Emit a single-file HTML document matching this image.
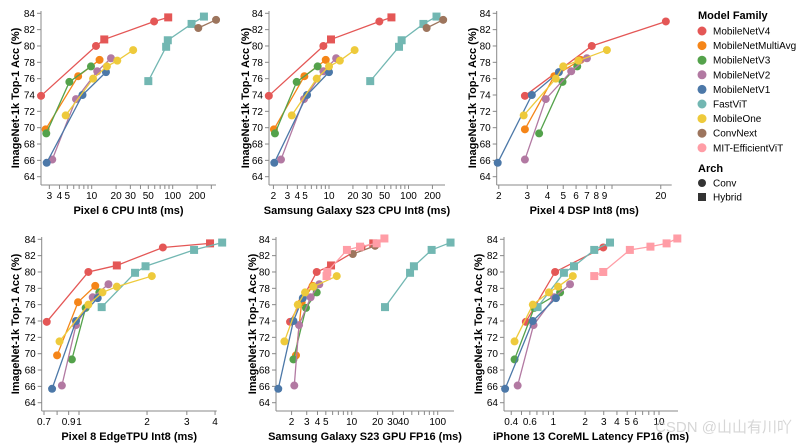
<!DOCTYPE html>
<html><head><meta charset="utf-8"><style>
body{margin:0;background:#fff;}
svg{display:block;font-family:"Liberation Sans","Noto Sans CJK SC",sans-serif;}
</style></head><body>
<svg id="c" width="801" height="447"></svg>
<script>
const families = ["MobileNetV4","MobileNetMultiAvg","MobileNetV3","MobileNetV2","MobileNetV1","FastViT","MobileOne","ConvNext","MIT-EfficientViT"];
const colors = ["#e45756","#f58518","#54a24b","#b279a2","#4c78a8","#72b7b2","#eeca3b","#9d755d","#ff9da6"];
const accV4 = [73.9,80.0,80.8,83.0,83.5];
const accMA = [69.8,76.3,78.3];
const accV3 = [69.3,75.6,77.5];
const accV2 = [66.1,73.5,76.9,78.5];
const accV1 = [65.7,74.0,76.8];
const accFV = [75.7,79.9,80.7,82.7,83.6];
const accMO = [71.5,76.0,77.5,78.2,79.5];
const accCN = [82.2,83.2];
const accEV = [79.5,80.0,82.7,83.1,83.5,84.1];
const hybV4 = [0,0,1,0,1];
const hybFV = [1,1,1,1,1];
const hybEV = [1,1,1,1,1,1];
// latencies per panel (null = not measured)
const latP1 = [[2.37,11.3,14.3,59,88],[2.7,6.8,12.5],[2.75,5.3,9.8],[3.26,6.4,11.7,17.3],[2.78,7.7,15],[50,83,87,171,243],[4.77,10.4,15.4,20.7,32.5],[207,343],null];
const latP2 = [[1.75,8.5,10.6,43,61],[2.03,4.9,9.1],[2.09,3.92,7.2],[2.49,4.85,8.5,12.3],[2.05,5.3,10],[33,76,82,154,225],[3.4,7,10,13.7,21],[169,273],null];
const latP3 = [[2.9,7.5,null,21.5,null],[2.9,4.4,6.4],[3.55,4.95,6.1],[2.9,3.9,5.6,7.0],[1.97,3.2,4.7],null,[2.85,4.5,5.0,6.2,9.3],null,null];
const latP4 = [[0.72,1.1,1.47,2.35,3.8],[0.80,0.99,1.18],[0.93,1.07,1.23],[0.84,0.97,1.15,1.35],[0.76,0.97,1.21],[1.26,1.77,1.97,3.23,4.3],[0.82,1.1,1.27,1.47,2.1],null,null];
const latP5 = [[1.92,3.92,5.75,13,17.8],[2.25,2.62,3.52],[2.1,2.94,3.92],[2.15,2.44,3.33,4.2],[1.4,2.1,2.7],[24.4,47.7,52.9,85,141],[1.65,2.36,2.87,3.58,6.7],[10.3,18.7],[5.1,5.2,8.8,12.5,19.5,24]];
const latP6 = [[0.55,1.04,null,2.97,null],null,[0.43,0.66,1.16],[0.46,0.65,1.02,1.44],[0.35,0.64,1.06],[0.71,1.26,1.57,2.44,3.44],[0.43,0.64,0.91,1.11,1.53],null,[2.44,2.97,5.3,8.3,11.8,14.9]];
const titles = ["Pixel 6 CPU Int8 (ms)","Samsung Galaxy S23 CPU Int8 (ms)","Pixel 4 DSP Int8 (ms)","Pixel 8 EdgeTPU Int8 (ms)","Samsung Galaxy S23 GPU FP16 (ms)","iPhone 13 CoreML Latency FP16 (ms)"];
const tickLabels = [[3,4,5,10,20,30,50,100,200],[2,3,4,5,10,20,30,50,100,200],[2,3,4,5,6,7,8,9,20],[0.7,0.9,1,2,3,4],[2,3,4,5,10,20,30,40,100],[0.4,0.6,1,2,3,4,5,6,10]];
const yTicks = [64,66,68,70,72,74,76,78,80,82,84];

const accs=[accV4,accMA,accV3,accV2,accV1,accFV,accMO,accCN,accEV];
const hybs=[hybV4,null,null,null,null,hybFV,null,null,hybEV];
const lats=[latP1,latP2,latP3,latP4,latP5,latP6];
// layout (not data)
const P=[{o:10.7,d:81,l:41,r:216,t:0,yt:15},{o:249.5,d:79.5,l:269,r:445,t:0,yt:245},{o:450,d:162,l:496.7,r:671.7,t:0,yt:472},
{o:79,d:226,l:41.7,r:216.7,t:226,yt:15},{o:265.7,d:86,l:276,r:454,t:226,yt:252},{o:553.3,d:105.7,l:504,r:678,t:226,yt:478}];
const NS="http://www.w3.org/2000/svg";
const svg=document.getElementById('c');
function mk(tag,at,par){const e=document.createElementNS(NS,tag);for(const k in at)e.setAttribute(k,at[k]);(par||svg).appendChild(e);return e;}
function minors(lo,hi){const a=[];for(let e=-2;e<4;e++)for(let m=1;m<10;m++){const v=m*Math.pow(10,e);if(v>=lo&&v<=hi)a.push(v);}return a;}
P.forEach((p,i)=>{
  const g=mk('g',{});
  
  
  const X=v=>p.o+Math.log10(v)*p.d;
  const Y=v=>13.3+p.t+(84-v)*8.17;
  const bot=185+p.t, top=11+p.t;
  const ya=mk('line',{x1:p.l,y1:top,x2:p.l,y2:bot,stroke:'#888','stroke-width':1},g);
  
  const xa=mk('line',{x1:p.l,y1:bot,x2:p.r,y2:bot,stroke:'#888','stroke-width':1},g);
  
  yTicks.forEach(v=>{
    mk('line',{x1:p.l-4,y1:Y(v),x2:p.l,y2:Y(v),stroke:'#888'},g);
    const t=mk('text',{x:p.l-6,y:Y(v)+3.5,'font-size':10,'text-anchor':'end',fill:'#000'},g);t.textContent=v;
    
  });
  const lo=Math.pow(10,(p.l-p.o)/p.d),hi=Math.pow(10,(p.r-p.o)/p.d);
  minors(lo,hi).forEach(v=>mk('line',{x1:X(v),y1:bot,x2:X(v),y2:bot+4,stroke:'#888'},g));
  tickLabels[i].forEach(v=>{const t=mk('text',{x:X(v),y:bot+14,'font-size':10,'text-anchor':'middle',fill:'#000'},g);t.textContent=v;
    });
  const xt=mk('text',{x:(p.l+p.r)/2,y:bot+29,'font-size':11,'font-weight':'bold','text-anchor':'middle'},g);xt.textContent=titles[i];
  
  const cy=(top+bot)/2;
  const yt=mk('text',{x:p.yt,y:cy,'font-size':11,'font-weight':'bold','text-anchor':'middle',transform:`rotate(-90 ${p.yt} ${cy})`,dy:4},g);yt.textContent='ImageNet-1k Top-1 Acc (%)';
  
  lats[i].forEach((L,f)=>{
    if(!L)return;
    const pts=[];L.forEach((v,k)=>{if(v!=null)pts.push([X(v),Y(accs[f][k]),hybs[f]?hybs[f][k]:0]);});
    const ln=mk('polyline',{points:pts.map(q=>q[0]+','+q[1]).join(' '),fill:'none',stroke:colors[f],'stroke-width':1.3},g);
    
    pts.forEach(q=>{let m;
      if(q[2]) m=mk('rect',{x:q[0]-4,y:q[1]-4,width:8,height:8,fill:colors[f]},g);
      else m=mk('circle',{cx:q[0],cy:q[1],r:4,fill:colors[f]},g);
      });
  });
});
// legend
const lg=mk('g',{});
let t=mk('text',{x:698,y:19,'font-size':11,'font-weight':'bold'},lg);t.textContent='Model Family';

families.forEach((f,i)=>{const y=31+i*14.6;
  const c=mk('circle',{cx:702,cy:y,r:4.5,fill:colors[i]},lg);
  
  const tx=mk('text',{x:713,y:y+3.5,'font-size':10},lg);tx.textContent=f;
  });
t=mk('text',{x:698,y:172,'font-size':11,'font-weight':'bold'},lg);t.textContent='Arch';

mk('circle',{cx:702,cy:183,r:4,fill:'#333'},lg);
t=mk('text',{x:713,y:186.5,'font-size':10},lg);t.textContent='Conv';

mk('rect',{x:698,y:193,width:8,height:8,fill:'#333'},lg);
t=mk('text',{x:713,y:200.5,'font-size':10},lg);t.textContent='Hybrid';

t=mk('text',{x:792,y:432,'font-size':15,'text-anchor':'end',fill:'#ccc','fill-opacity':0.8});t.textContent='CSDN @山山有川吖';

</script>
</body></html>
